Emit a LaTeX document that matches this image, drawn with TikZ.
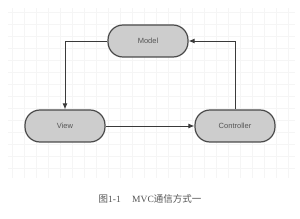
\documentclass[tikz,border=0pt]{standalone}
\usepackage{fontspec}
\setmainfont{Liberation Serif}
\setsansfont{Liberation Sans}
\newfontfamily\cjk{Noto Sans CJK SC}
\usetikzlibrary{arrows.meta}
\definecolor{boxfill}{HTML}{CDCDCD}
\definecolor{boxline}{HTML}{4A4A4A}
\definecolor{linecol}{HTML}{3A3A3A}
\definecolor{txtcol}{HTML}{555555}
\definecolor{gridcol}{HTML}{F5F5F5}
\begin{document}
\begin{tikzpicture}[x=1pt,y=-1pt,
  mvcbox/.style={draw=boxline, fill=boxfill, line width=1.2pt, rounded corners=15pt,
    minimum width=80pt, minimum height=32pt, inner sep=0pt,
    font=\sffamily\fontsize{7.5}{8}\selectfont, text=txtcol},
  conn/.style={draw=linecol, line width=0.9pt, -{Latex[length=6pt,width=5pt]}}]
\useasboundingbox (0,0) rectangle (300,219);
\fill[white] (0,0) rectangle (300,219);
\draw[gridcol, line width=0.3pt, step=12pt] (8,8) grid (295,178);
\node[mvcbox] (model) at (148,41) {Model};
\node[mvcbox] (view) at (65,126) {View};
\node[mvcbox] (ctrl) at (235,126) {Controller};
\coordinate (mv) at (65,41);
\coordinate (cm) at (235,41);
\draw[conn] (model.west) -- (mv) -- (view.north);
\draw[conn] (view.east) -- (ctrl.west);
\draw[conn] (ctrl.north) -- (cm) -- (model.east);
\node[font=\fontsize{9.5}{11}\selectfont, text=txtcol] (cap) at (150,199) {{\cjk 图}1-1\hspace{1.2em}MVC{\cjk 通信方式一}};
\end{tikzpicture}
\end{document}
